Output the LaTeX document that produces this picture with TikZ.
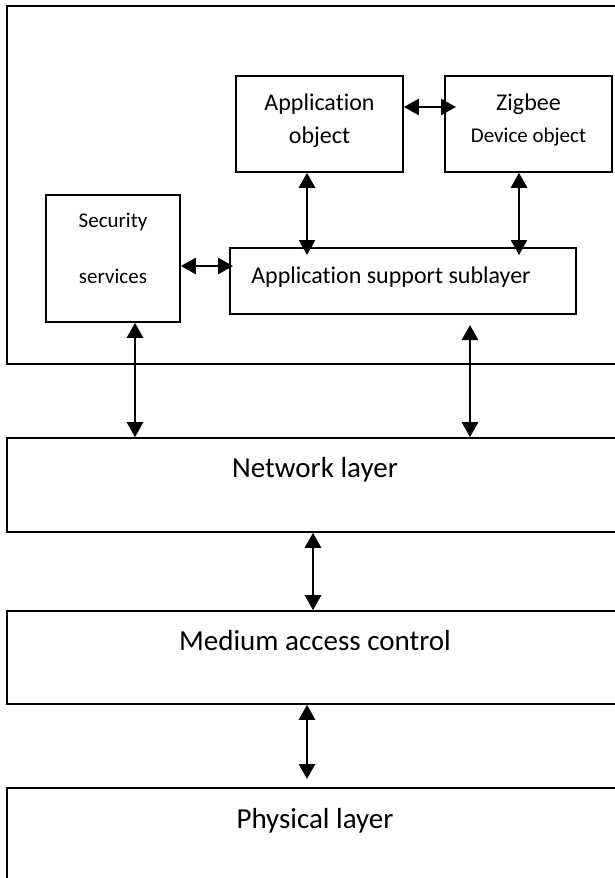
\documentclass[tikz,border=0pt]{standalone}
\usepackage{fontspec}
\setmainfont{Carlito}[Ligatures={NoCommon,NoRequired,NoContextual}]
\usetikzlibrary{arrows.meta}

\begin{document}
\begin{tikzpicture}[x=1pt,y=-1pt,
  box/.style={draw,line width=1.6pt,inner sep=0pt},
  lbl/.style={anchor=base,inner sep=0pt},
  big/.style={font=\fontsize{29}{35}\selectfont},
  mid/.style={font=\fontsize{24}{29}\selectfont},
  small/.style={font=\fontsize{21}{25}\selectfont},
  link/.style={line width=2.6pt,{Triangle[length=15pt,width=16pt]}-{Triangle[length=15pt,width=16pt]}}]
\useasboundingbox (0,0) rectangle (614,878);
\node[box,line width=2pt,minimum width=616,minimum height=358] (zstack) at (315,185) {};
\node[box,minimum width=167,minimum height=96] (app) at (319.5,124) {};
\node[box,minimum width=167,minimum height=96] (zdo) at (528.5,124) {};
\node[box,minimum width=134,minimum height=127] (sec) at (113,258.5) {};
\node[box,minimum width=346,minimum height=66] (aps) at (403,281) {};
\node[box,minimum width=616,minimum height=94] (net) at (315,485) {};
\node[box,minimum width=616,minimum height=93] (mac) at (315,657.5) {};
\node[box,minimum width=616,minimum height=112] (phy) at (315,844) {};
\node[lbl,mid] (appa) at (319.5,110) {Application};
\node[lbl,mid] (appb) at (319.5,143) {object};
\node[lbl,mid] (zdoa) at (528.5,110) {Zigbee};
\node[lbl,small] (zdob) at (528.5,142) {Device object};
\node[lbl,small] (seca) at (113,227) {Security};
\node[lbl,small] (secb) at (113,283) {services};
\node[lbl,mid] (apsa) at (391,283) {Application support sublayer};
\node[lbl,big] (neta) at (315,477) {Network layer};
\node[lbl,big] (maca) at (315,650) {Medium access control};
\node[lbl,big] (phya) at (315,828) {Physical layer};
\coordinate (zdoin) at (456,107);
\coordinate (apsin) at (307,255);
\coordinate (apsinb) at (519,255);
\coordinate (apsinc) at (233,266);
\coordinate (apsout) at (470,325);
\coordinate (phyin) at (307,779);
\draw[link] (app.east |- zdoin) -- (zdoin);
\draw[link] (app.south -| apsin) -- (apsin);
\draw[link] (zdo.south -| apsinb) -- (apsinb);
\draw[link] (sec.east |- apsinc) -- (apsinc);
\draw[link] (sec.south -| 135,0) -- (net.north -| 135,0);
\draw[link] (apsout) -- (net.north -| apsout);
\draw[link] (net.south -| 313,0) -- (mac.north -| 313,0);
\draw[link] (mac.south -| phyin) -- (phyin);
\end{tikzpicture}
\end{document}
